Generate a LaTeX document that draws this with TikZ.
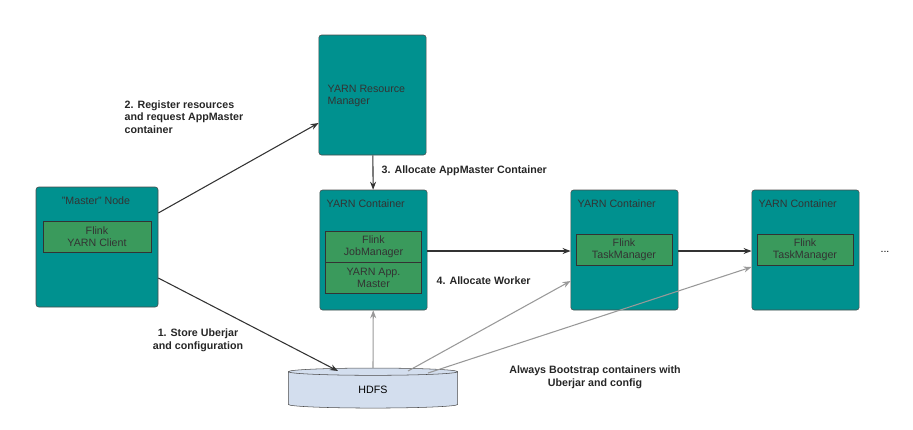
\documentclass[tikz,border=0pt]{standalone}
\usepackage{fontspec}
\setmainfont{Liberation Sans}
\usetikzlibrary{positioning, shapes.geometric, arrows.meta}

\definecolor{tealbox}{HTML}{00918F}
\definecolor{greenbox}{HTML}{3A9A5C}
\definecolor{hdfsblue}{HTML}{D3DEEE}

\tikzset{
  container/.style={draw=black!70, fill=tealbox, rounded corners=2pt, minimum width=80.5pt, minimum height=90pt, inner sep=0pt},
  part/.style={draw=black!80, fill=greenbox, minimum width=72pt, align=center, font=\fontsize{8}{9}\selectfont, text=black!80, inner sep=0pt},
  title/.style={font=\fontsize{8}{9.5}\selectfont, text=black!80, anchor=north west},
  steplabel/.style={font=\bfseries\fontsize{8}{9.5}\selectfont, text=black!85},
  flow/.style={-{Stealth[length=6pt]}, black!80, thick},
  boot/.style={-{Stealth[length=6pt]}, black!40, thick}
}

\begin{document}
\begin{tikzpicture}[x=0.75pt, y=-0.75pt]
  \useasboundingbox (0,0) rectangle (913,429);

  % master node
  \node[container, minimum width=91.5pt] (master) at (97,247) {};
  \node[title, anchor=north] at (96,192) {"Master" Node};
  \node[part, minimum width=81pt, minimum height=23pt] (client) at (97,236.5) {Flink\\YARN Client};

  % resource manager
  \node[container] (rm) at (372.5,95) {};
  \node[title, align=left] at (323,80) {YARN Resource\\Manager};

  % appmaster container
  \node[container] (am) at (373.5,250) {};
  \node[title] at (322,195) {YARN Container};
  \node[part, minimum height=23pt] (jm) at (373.5,246.5) {Flink\\JobManager};
  \node[part, minimum height=23pt, below=0pt of jm] (amaster) {YARN App.\\Master};

  % task manager containers
  \node[container] (tmA) at (624.5,250) {};
  \node[title] at (573,195) {YARN Container};
  \node[part, minimum height=23pt] (taskA) at (624,249.5) {Flink\\TaskManager};
  \node[container] (tmB) at (805.5,250) {};
  \node[title] at (754,195) {YARN Container};
  \node[part, minimum height=23pt] (taskB) at (805,249.5) {Flink\\TaskManager};
  \node[font=\fontsize{8}{9}\selectfont] (more) at (885,252) {...};

  % hdfs
  \node[cylinder, shape border rotate=90, aspect=0.25, draw=black!70, fill=hdfsblue, minimum width=127pt, minimum height=30pt, inner sep=0pt, font=\fontsize{8}{9}\selectfont] (hdfs) at (373,390) {HDFS};

  \draw[flow] (master.east |- 0,213) -- (rm.west |- 0,123);
  \draw[flow] (master.east |- 0,278) -- (338,371);
  \draw[flow] (rm) -- (am);
  \draw[flow] (am.east |- 0,251) -- (tmA.west |- 0,251);
  \draw[flow] (tmA.east |- 0,251) -- (tmB.west |- 0,251);

  \draw[boot] (hdfs.top) -- (am);
  \draw[boot] (408,371) -- (tmA.west |- 0,281);
  \draw[boot] (428,373) -- (tmB.west |- 0,267);

  \node[steplabel, align=left, anchor=west] at (120,117) {2. Register resources\\and request AppMaster\\container};
  \node[steplabel, anchor=west] at (377,171) {3. Allocate AppMaster Container};
  \node[steplabel, anchor=west] at (432,281) {4. Allocate Worker};
  \node[steplabel, align=center] at (198,340) {1. Store Uberjar\\and configuration};
  \node[steplabel, align=center] at (595,377) {Always Bootstrap containers with\\Uberjar and config};
\end{tikzpicture}
\end{document}
